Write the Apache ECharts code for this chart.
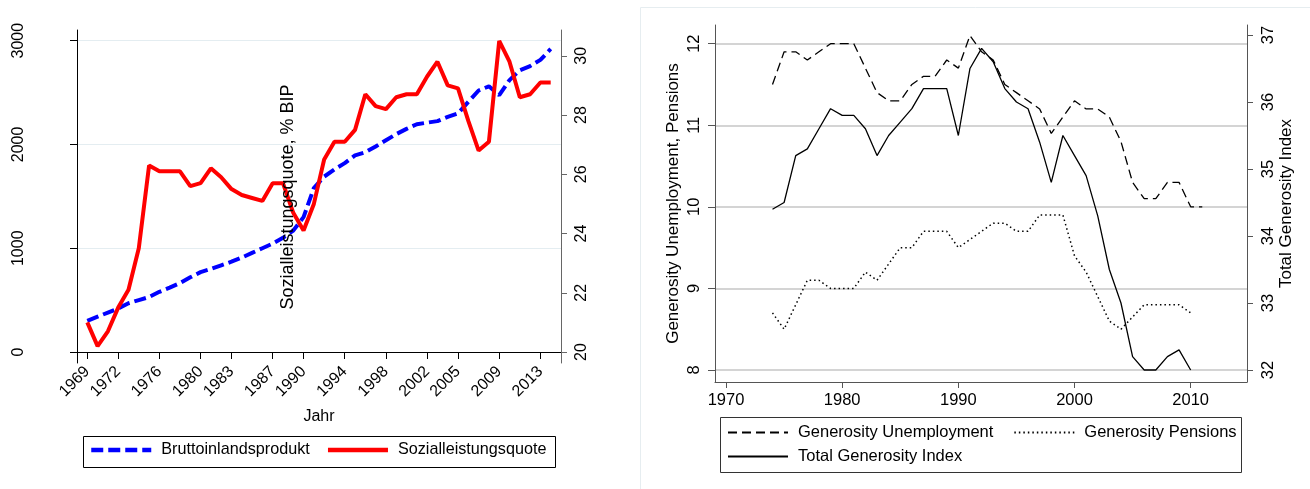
<!DOCTYPE html>
<html><head><meta charset="utf-8">
<script src="https://cdn.jsdelivr.net/npm/echarts@6/dist/echarts.min.js"></script>
<style>html,body{margin:0;padding:0;background:#fff;}#c{width:1310px;height:489px;}</style>
</head><body><div id="c"></div>
<script>
// ---- Left chart data (1969-2014) ----
const years1 = [];
for (let y = 1969; y <= 2014; y++) years1.push(y);
const gdp = [300,340,380,420,470,500,530,580,620,665,
             720,770,800,835,870,910,955,1000,1045,1100,
             1170,1300,1580,1690,1760,1820,1895,1925,1980,2040,
             2100,2150,2195,2210,2225,2265,2300,2410,2520,2560,
             2475,2620,2715,2755,2815,2920];
const quote = [21.0,20.2,20.7,21.5,22.1,23.5,26.3,26.1,26.1,26.1,
               25.6,25.7,26.2,25.9,25.5,25.3,25.2,25.1,25.7,25.7,
               24.7,24.1,25.0,26.5,27.1,27.1,27.5,28.7,28.3,28.2,
               28.6,28.7,28.7,29.3,29.8,29.0,28.9,27.8,26.8,27.1,
               30.5,29.8,28.6,28.7,29.1,29.1];
const xTicks1 = [1969,1972,1976,1980,1983,1987,1990,1994,1998,2002,2005,2009,2013];
const gdpTicks = [0,1000,2000,3000];
const quoteTicks = [20,22,24,26,28,30];

// ---- Right chart data ----
const years2 = [];
for (let y = 1974; y <= 2011; y++) years2.push(y);
const unemp = [11.5,11.9,11.9,11.8,11.9,12.0,12.0,12.0,11.7,11.4,
               11.3,11.3,11.5,11.6,11.6,11.8,11.7,12.1,11.9,11.8,
               11.5,11.4,11.3,11.2,10.9,11.1,11.3,11.2,11.2,11.1,
               10.8,10.3,10.1,10.1,10.3,10.3,10.0,10.0];
const pensions = [8.7,8.5,8.8,9.1,9.1,9.0,9.0,9.0,9.2,9.1,
                  9.3,9.5,9.5,9.7,9.7,9.7,9.5,9.6,9.7,9.8,
                  9.8,9.7,9.7,9.9,9.9,9.9,9.4,9.2,8.9,8.6,
                  8.5,8.65,8.8,8.8,8.8,8.8,8.7];
const total = [34.4,34.5,35.2,35.3,35.6,35.9,35.8,35.8,35.6,35.2,
               35.5,35.7,35.9,36.2,36.2,36.2,35.5,36.5,36.8,36.6,
               36.2,36.0,35.9,35.4,34.8,35.5,35.2,34.9,34.3,33.5,
               33.0,32.2,32.0,32.0,32.2,32.3,32.0];
const xTicks2 = [1970,1980,1990,2000,2010];
const leftTicks2 = [8,9,10,11,12];
const rightTicks2 = [32,33,34,35,36,37];

const FONT = '"Liberation Sans", Arial, sans-serif';
const pairs = (xs, ys) => ys.map((v, i) => [xs[i], v]);
const fmt = v => String(v);
const legendText = {fontSize: 16.5, color: '#000', fontFamily: FONT, padding: [0, 0, 0, 5]};

const chart = echarts.init(document.getElementById('c'));
chart.setOption({
  animation: false,
  textStyle: {fontFamily: FONT, color: '#000'},
  grid: [
    {left: 77, top: 30, width: 484, height: 333},
    {left: 715, top: 25, width: 532, height: 357}
  ],
  xAxis: [
    {type: 'value', gridIndex: 0, min: 1968, max: 2015,
     axisLine: {show: true, lineStyle: {color: '#000', width: 1}},
     axisTick: {show: true, customValues: xTicks1, length: 7, lineStyle: {color: '#000'}},
     axisLabel: {customValues: xTicks1, rotate: 45, fontSize: 16, color: '#000', margin: 6, formatter: fmt, fontFamily: FONT},
     splitLine: {show: false},
     name: 'Jahr', nameLocation: 'middle', nameGap: 46,
     nameTextStyle: {fontSize: 16, color: '#000', fontFamily: FONT}},
    {type: 'value', gridIndex: 1, min: 1969.05, max: 2014.85,
     axisLine: {show: true, lineStyle: {color: '#555', width: 1}},
     axisTick: {show: true, customValues: xTicks2, length: 6, lineStyle: {color: '#555'}},
     axisLabel: {customValues: xTicks2, fontSize: 16.5, color: '#000', margin: 10, formatter: fmt, fontFamily: FONT},
     splitLine: {show: false}}
  ],
  yAxis: [
    {type: 'value', gridIndex: 0, position: 'left', min: -106, max: 3103,
     axisLine: {show: true, lineStyle: {color: '#000', width: 1}},
     axisTick: {show: true, customValues: gdpTicks, length: 7, lineStyle: {color: '#000'}},
     axisLabel: {customValues: gdpTicks, rotate: 90, fontSize: 16, color: '#000', margin: 50, formatter: fmt, fontFamily: FONT},
     splitLine: {show: true, lineStyle: {color: '#e4edf1', width: 1}}},
    {type: 'value', gridIndex: 0, position: 'right', min: 19.63, max: 30.87,
     axisLine: {show: true, lineStyle: {color: '#666', width: 1}},
     axisTick: {show: true, customValues: quoteTicks, length: 6, lineStyle: {color: '#666'}},
     axisLabel: {customValues: quoteTicks, rotate: 90, fontSize: 16, color: '#000', margin: 13, formatter: fmt, fontFamily: FONT},
     splitLine: {show: false}},
    {type: 'value', gridIndex: 1, position: 'left', min: 7.853, max: 12.229,
     axisLine: {show: true, lineStyle: {color: '#555', width: 1}},
     axisTick: {show: true, customValues: leftTicks2, length: 7, lineStyle: {color: '#555'}},
     axisLabel: {customValues: leftTicks2, rotate: 90, fontSize: 16.5, color: '#000', margin: 12, formatter: fmt, fontFamily: FONT},
     splitLine: {show: true, lineStyle: {color: '#c6c6c6', width: 1.5}},
     name: 'Generosity Unemployment, Pensions', nameLocation: 'middle', nameGap: 33, nameRotate: 90,
     nameTextStyle: {fontSize: 17, color: '#000', fontFamily: FONT}},
    {type: 'value', gridIndex: 1, position: 'right', min: 31.821, max: 37.149,
     axisLine: {show: true, lineStyle: {color: '#555', width: 1}},
     axisTick: {show: true, customValues: rightTicks2, length: 6, lineStyle: {color: '#555'}},
     axisLabel: {customValues: rightTicks2, rotate: 90, fontSize: 16.5, color: '#000', margin: 13, formatter: fmt, fontFamily: FONT},
     splitLine: {show: false},
     name: 'Total Generosity Index', nameLocation: 'middle', nameGap: 25, nameRotate: 90,
     nameTextStyle: {fontSize: 17, color: '#000', fontFamily: FONT}}
  ],
  legend: [
    {left: 89, top: 442, padding: 0, itemWidth: 60, itemHeight: 14, itemGap: 16,
     itemStyle: {opacity: 0}, lineStyle: {width: 4.5},
     data: ['Bruttoinlandsprodukt', 'Sozialleistungsquote'],
     textStyle: {fontSize: 16.2, color: '#000', fontFamily: FONT, padding: [0, 0, 0, 5]}},
    {left: 727, top: 424, padding: 0, itemWidth: 60, itemHeight: 14, itemGap: 20,
     itemStyle: {opacity: 0},
     data: ['Generosity Unemployment', 'Generosity Pensions'], textStyle: legendText},
    {left: 727, top: 448, padding: 0, itemWidth: 60, itemHeight: 14,
     itemStyle: {opacity: 0},
     data: ['Total Generosity Index'], textStyle: legendText}
  ],
  graphic: [
    {type: 'rect', shape: {x: 640.5, y: 7.5, width: 720, height: 520}, style: {fill: 'none', stroke: '#e6edf0', lineWidth: 1}, silent: true, z: -10},
    {type: 'rect', shape: {x: 83.5, y: 436.5, width: 472, height: 31}, style: {fill: 'none', stroke: '#000', lineWidth: 1}, silent: true},
    {type: 'rect', shape: {x: 720.5, y: 417.5, width: 521, height: 55}, style: {fill: 'none', stroke: '#333', lineWidth: 1}, silent: true},
    {type: 'text', x: 288, y: 197, rotation: Math.PI / 2,
     style: {text: 'Sozialleistungsquote, % BIP', font: '18px ' + FONT, fill: '#000', textAlign: 'center', textVerticalAlign: 'middle'}, z: 100}
  ],
  series: [
    {name: 'Bruttoinlandsprodukt', type: 'line', xAxisIndex: 0, yAxisIndex: 0, symbol: 'none',
     data: pairs(years1, gdp), color: '#0000ff',
     lineStyle: {color: '#0000ff', width: 4, type: [12, 5]}},
    {name: 'Sozialleistungsquote', type: 'line', xAxisIndex: 0, yAxisIndex: 1, symbol: 'none',
     data: pairs(years1, quote), color: '#ff0000',
     lineStyle: {color: '#ff0000', width: 4}},
    {name: 'Generosity Unemployment', type: 'line', xAxisIndex: 1, yAxisIndex: 2, symbol: 'none',
     data: pairs(years2, unemp), color: '#000',
     lineStyle: {color: '#000', width: 1.3, type: [9, 5]}},
    {name: 'Generosity Pensions', type: 'line', xAxisIndex: 1, yAxisIndex: 2, symbol: 'none',
     data: pairs(years2, pensions), color: '#000',
     lineStyle: {color: '#000', width: 1.5, type: [1.5, 3]}},
    {name: 'Total Generosity Index', type: 'line', xAxisIndex: 1, yAxisIndex: 3, symbol: 'none',
     data: pairs(years2, total), color: '#000',
     lineStyle: {color: '#000', width: 1.3}}
  ]
});
</script></body></html>
